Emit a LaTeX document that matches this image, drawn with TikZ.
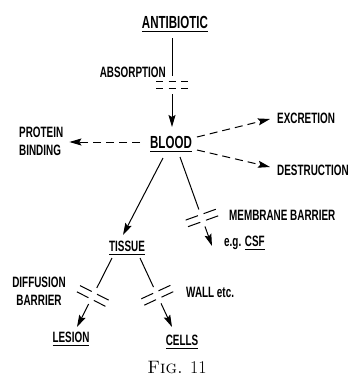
\documentclass[tikz,border=0pt]{standalone}
\usepackage{fontspec}
\usetikzlibrary{arrows.meta,calc}
\newfontfamily\labfont[FakeStretch=0.66]{Liberation Sans}
\newcommand{\ulab}[1]{\setbox0=\hbox{#1}\rlap{\rule[-3.6pt]{\wd0}{0.9pt}}\box0}

\begin{document}
\begin{tikzpicture}[x=1pt,y=-1pt,
    lab/.style={font={\labfont\bfseries\fontsize{15}{18}\selectfont}, inner sep=1pt},
    biglab/.style={lab, font={\labfont\bfseries\fontsize{17.5}{20}\selectfont}},
    conn/.style={line width=1pt},
    arr/.style={conn, -{Stealth[length=12pt,width=7pt,inset=2pt]}},
    darr/.style={arr, dash pattern=on 8pt off 5pt},
    brk/.style={line width=1pt, dash pattern=on 13pt off 6pt},
    brkv/.style={line width=1pt, dash pattern=on 7pt off 5.5pt}]
    \useasboundingbox (0,0) rectangle (349,376);

    % Labels
    \node[biglab, anchor=base] (anti) at (175,28) {\ulab{ANTIBIOTIC}};
    \node[lab, anchor=base east] (absorb) at (167,77) {ABSORPTION};
    \node[biglab, anchor=base] (blood) at (171,148) {\ulab{BLOOD}};
    \node[lab, anchor=west, align=left] (protein) at (18,141) {PROTEIN\\BINDING};
    \node[lab, anchor=base west] (excr) at (276,123) {EXCRETION};
    \node[lab, anchor=base west] (destr) at (276,175) {DESTRUCTION};
    \node[lab, anchor=base] (tissue) at (127,251) {\ulab{TISSUE}};
    \node[lab, anchor=base west] (membrane) at (228,220) {MEMBRANE BARRIER};
    \node[lab, anchor=base west] (csf) at (223,246) {e.g. \ulab{CSF}};
    \node[lab, align=center] (diffusion) at (39,291) {DIFFUSION\\BARRIER};
    \node[lab, anchor=base] (lesion) at (71,342) {\ulab{LESION}};
    \node[lab, anchor=base west] (wall) at (185,297) {WALL etc.};
    \node[lab, anchor=base] (cells) at (182,345) {\ulab{CELLS}};
    \node[anchor=base] (fig) at (177,373) {\fontsize{18}{20}\selectfont\textsc{Fig.} 11};

    % Antibiotic to blood, with break
    \coordinate (a1) at ($(anti.base)+(-3,10)$);
    \coordinate (a2) at ($(blood.base)+(1,-21)$);
    \coordinate (ab) at ($(a1)!0.53!(a2)$);
    \coordinate (am1) at ($(ab)!3.5pt!(a1)$);
    \coordinate (am2) at ($(ab)!3.5pt!(a2)$);
    \draw[conn] (a1) -- ($(ab)!9pt!(a1)$);
    \draw[arr] ($(ab)!9pt!(a2)$) -- (a2);
    \draw[brkv] ($(am1)!16pt!90:(a1)$) -- ($(am1)!16pt!-90:(a1)$);
    \draw[brkv] ($(am2)!16pt!90:(a1)$) -- ($(am2)!16pt!-90:(a1)$);

    % Blood to the sides
    \draw[darr] ($(blood.base)+(-31,-6)$) -- ($(protein.east)+(5,1)$);
    \draw[darr] ($(blood.base)+(26,-11)$) -- ($(excr.base west)+(-6,-4)$);
    \draw[darr] ($(blood.base)+(26,2)$) -- ($(destr.base west)+(-6,-8)$);

    % Blood to tissue
    \draw[arr] ($(blood.base)+(-8,10)$) -- ($(tissue.base)+(-4,-16)$);

    % Blood to CSF, membrane barrier
    \coordinate (c1) at ($(blood.base)+(9,9)$);
    \coordinate (c2) at ($(csf.base west)+(-11,0)$);
    \coordinate (cb) at ($(c1)!0.685!(c2)$);
    \coordinate (cm1) at ($(cb)!3.5pt!(c1)$);
    \coordinate (cm2) at ($(cb)!3.5pt!(c2)$);
    \draw[conn] (c1) -- ($(cb)!9pt!(c1)$);
    \draw[arr] ($(cb)!9pt!(c2)$) -- (c2);
    \draw[brk] ($(cm1)!16pt!90:(c1)$) -- ($(cm1)!16pt!-90:(c1)$);
    \draw[brk] ($(cm2)!16pt!90:(c1)$) -- ($(cm2)!16pt!-90:(c1)$);

    % Tissue to lesion, diffusion barrier
    \coordinate (l1) at ($(tissue.base)+(-15,7)$);
    \coordinate (l2) at ($(lesion.base)+(6,-15)$);
    \coordinate (lb) at ($(l1)!0.55!(l2)$);
    \coordinate (lm1) at ($(lb)!3.5pt!(l1)$);
    \coordinate (lm2) at ($(lb)!3.5pt!(l2)$);
    \draw[conn] (l1) -- ($(lb)!9pt!(l1)$);
    \draw[arr] ($(lb)!9pt!(l2)$) -- (l2);
    \draw[brk] ($(lm1)!16pt!90:(l1)$) -- ($(lm1)!16pt!-90:(l1)$);
    \draw[brk] ($(lm2)!16pt!90:(l1)$) -- ($(lm2)!16pt!-90:(l1)$);

    % Tissue to cells, wall
    \coordinate (w1) at ($(tissue.base)+(13,7)$);
    \coordinate (w2) at ($(cells.base)+(-10,-18)$);
    \coordinate (wb) at ($(w1)!0.54!(w2)$);
    \coordinate (wm1) at ($(wb)!3.5pt!(w1)$);
    \coordinate (wm2) at ($(wb)!3.5pt!(w2)$);
    \draw[conn] (w1) -- ($(wb)!9pt!(w1)$);
    \draw[arr] ($(wb)!9pt!(w2)$) -- (w2);
    \draw[brk] ($(wm1)!16pt!90:(w1)$) -- ($(wm1)!16pt!-90:(w1)$);
    \draw[brk] ($(wm2)!16pt!90:(w1)$) -- ($(wm2)!16pt!-90:(w1)$);
\end{tikzpicture}
\end{document}
